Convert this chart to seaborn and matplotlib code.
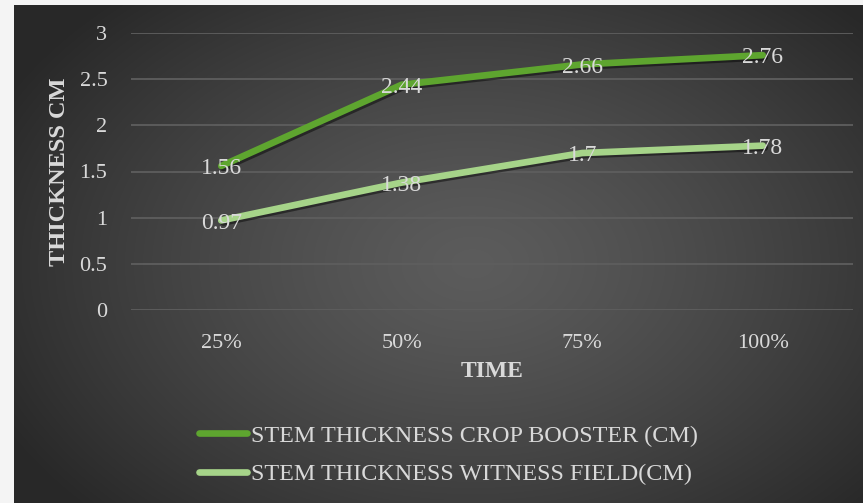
import numpy as np
import pandas as pd
import matplotlib
matplotlib.use("Agg")
import matplotlib.pyplot as plt
import matplotlib.patheffects as pe
import seaborn as sns

# Data
time_points = ["25%", "50%", "75%", "100%"]
crop_booster = [1.56, 2.44, 2.66, 2.76]
witness_field = [0.97, 1.38, 1.7, 1.78]
series_names = ["STEM THICKNESS CROP BOOSTER (CM)", "STEM THICKNESS WITNESS FIELD(CM)"]
y_ticks = [0, 0.5, 1, 1.5, 2, 2.5, 3]

df = pd.DataFrame({
    "time": time_points * 2,
    "value": crop_booster + witness_field,
    "series": [series_names[0]] * 4 + [series_names[1]] * 4,
})

sns.set_theme(style="dark")
plt.rcParams["font.family"] = ["Liberation Serif", "DejaVu Serif"]

TEXT = "#d9d9d9"
GREEN_DARK = "#5ea52f"
GREEN_LIGHT = "#a6d489"

W, H = 863, 503
fig = plt.figure(figsize=(W / 100, H / 100), dpi=100, facecolor="#f4f4f4")

# Dark radial-gradient panel behind the chart
bg = fig.add_axes([14 / W, 0, 1 - 14 / W, 1 - 5 / H])
bg.set_axis_off()
yy, xx = np.mgrid[0:1:300j, 0:1:500j]
r = np.sqrt(((xx - 0.54) / 0.62) ** 2 + ((yy - 0.52) / 0.72) ** 2)
shade = 0.36 - (0.36 - 0.16) * np.clip(r, 0, 1) ** 1.3
bg.imshow(np.dstack([shade, shade, shade]), extent=[0, 1, 0, 1],
          aspect="auto", origin="upper", interpolation="bilinear")
bg.set_xlim(0, 1)
bg.set_ylim(0, 1)

ax = fig.add_axes([131 / W, 1 - 310 / H, (853 - 131) / W, (310 - 33) / H])
ax.set_facecolor("none")

sns.lineplot(data=df, x="time", y="value", hue="series",
             palette=[GREEN_DARK, GREEN_LIGHT], linewidth=4.8,
             sort=False, ax=ax, legend=False)
for line in ax.get_lines():
    line.set_solid_capstyle("round")
    line.set_path_effects([pe.SimpleLineShadow(offset=(1.5, -1.5), alpha=0.45, shadow_color="black"),
                           pe.Normal()])

# Value labels centred on the points
for i, t in enumerate(time_points):
    for vals in (crop_booster, witness_field):
        v = vals[i]
        ax.text(i, v - 0.03, f"{v:g}", ha="center", va="center",
                color=TEXT, fontsize=17, zorder=5)

ax.set_xlim(-0.5, 3.5)
ax.set_ylim(0, 3)
ax.set_yticks(y_ticks)
ax.set_yticklabels([f"{v:g}" for v in y_ticks])
ax.grid(axis="y", color="#5e5e5e", linewidth=1.3)
ax.grid(axis="x", visible=False)
for s in ax.spines.values():
    s.set_visible(False)
ax.tick_params(axis="both", length=0, colors=TEXT, labelsize=16)
ax.tick_params(axis="y", pad=17)
ax.tick_params(axis="x", pad=17)

ax.set_xlabel("TIME", color=TEXT, fontsize=17, fontweight="bold", labelpad=6)
ax.set_ylabel("THICKNESS CM", color=TEXT, fontsize=17.5, fontweight="bold", labelpad=7)

handles = [plt.Line2D([], [], color=GREEN_DARK, lw=4.8),
           plt.Line2D([], [], color=GREEN_LIGHT, lw=4.8)]
fig.legend(handles, series_names, loc="center left",
           bbox_to_anchor=(199 / W, 1 - 455 / H), frameon=False,
           fontsize=17.4, labelcolor=TEXT, handlelength=2.0, handletextpad=0.15,
           labelspacing=0.68, borderpad=0, borderaxespad=0)

fig.savefig("out.png", dpi=100, facecolor=fig.get_facecolor())
